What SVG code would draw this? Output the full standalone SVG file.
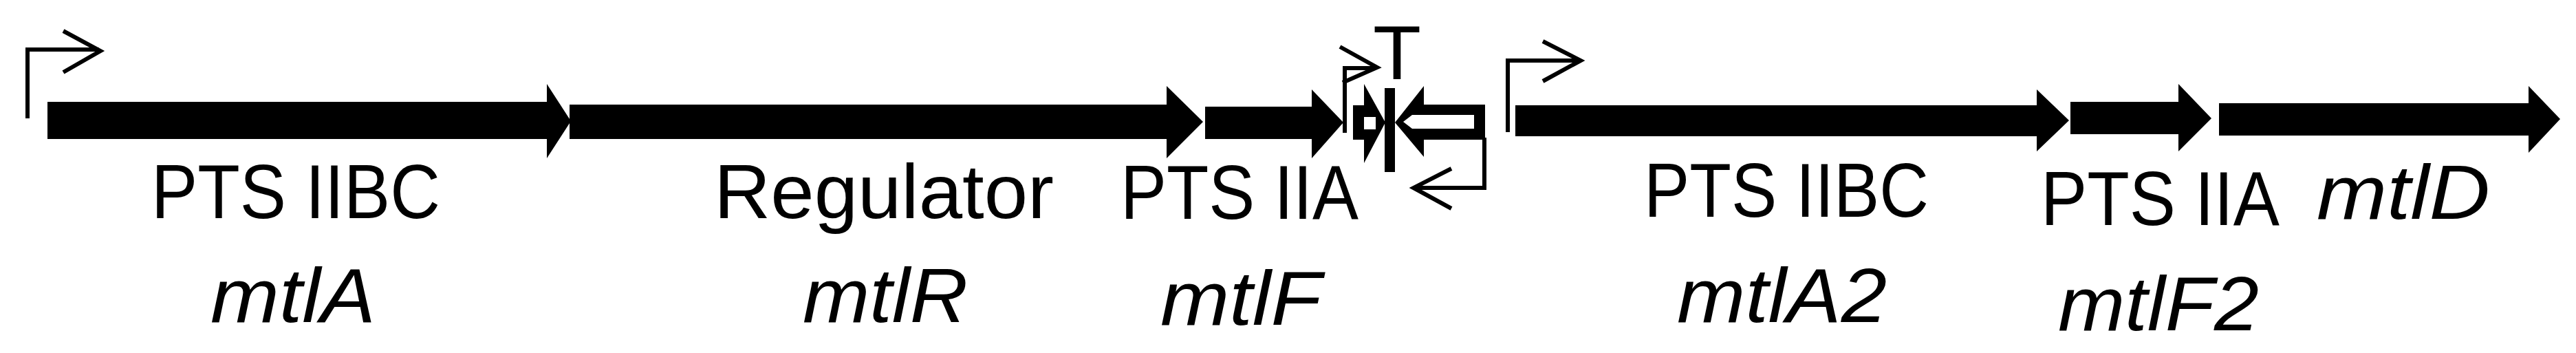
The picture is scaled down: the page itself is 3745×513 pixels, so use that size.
<svg xmlns="http://www.w3.org/2000/svg" width="3745" height="513" viewBox="0 0 3745 513">
<style>
.gene{fill:#000;}
.prom{fill:none;stroke:#000;stroke-width:6;stroke-linejoin:miter;}
.lbl{font-family:"Liberation Sans",Arial,sans-serif;font-size:112px;fill:#000;}
.it{font-style:italic;}
</style>
<rect width="3745" height="513" fill="#fff"/>
<g id="connectors">
  <g id="promoter1"><path class="prom" d="M40,172 V72 H144 M92,45 L146,74 L92,105"/></g>
  <g id="promoter2"><path class="prom" d="M1955,193 V99 H2000 M1948,68 L2002,98 L1952,120"/></g>
  <g id="promoter-rev"><path class="prom" d="M2158,200 V273 H2057 M2110,245 L2055,273 L2110,303"/></g>
  <g id="promoter3"><path class="prom" d="M2192,192 V88 H2296 M2243,60 L2298,88 L2243,118"/></g>
</g>
<g id="mtlA"><polygon class="gene" points="69,148 795,148 795,122 830,176 795,230 795,202 69,202"/></g>
<g id="mtlR"><polygon class="gene" points="828,152 1696,152 1696,125 1749,177 1696,230 1696,202 828,202"/></g>
<g id="mtlF"><polygon class="gene" points="1752,155 1907,155 1907,130 1953,178 1907,230 1907,202 1752,202"/></g>
<g id="small-fwd">
  <polygon class="gene" points="1967,153 1983,153 1983,122 2014,178 1983,237 1983,203 1967,203"/>
  <rect x="1983" y="170" width="17" height="18" fill="#fff"/>
</g>
<g id="terminator">
  <rect x="2013" y="128" width="15" height="122" fill="#000"/>
  <text class="lbl" x="2031" y="115" font-size="125" text-anchor="middle" textLength="70" lengthAdjust="spacingAndGlyphs">T</text>
</g>
<g id="small-rev">
  <polygon class="gene" points="2028,178 2070,125 2070,152 2159,152 2159,203 2070,203 2070,228"/>
  <polygon points="2040,177 2053,167 2143,167 2143,187 2053,187" fill="#fff"/>
</g>
<g id="mtlA2"><polygon class="gene" points="2203,153 2961,153 2961,130 3008,175 2961,220 2961,198 2203,198"/></g>
<g id="mtlF2"><polygon class="gene" points="3010,148 3167,148 3167,122 3215,172 3167,220 3167,195 3010,195"/></g>
<g id="mtlD"><polygon class="gene" points="3226,150 3676,150 3676,125 3722,173 3676,222 3676,197 3226,197"/></g>
<g id="labels">
  <text class="lbl" x="220" y="317" textLength="420" lengthAdjust="spacingAndGlyphs">PTS IIBC</text>
  <text class="lbl it" x="306" y="468" textLength="240" lengthAdjust="spacingAndGlyphs">mtlA</text>
  <text class="lbl" x="1038" y="317" textLength="494" lengthAdjust="spacingAndGlyphs">Regulator</text>
  <text class="lbl it" x="1167" y="468" textLength="240" lengthAdjust="spacingAndGlyphs">mtlR</text>
  <text class="lbl" x="1629" y="318" textLength="346" lengthAdjust="spacingAndGlyphs">PTS IIA</text>
  <text class="lbl it" x="1687" y="472" textLength="234" lengthAdjust="spacingAndGlyphs">mtlF</text>
  <text class="lbl" x="2390" y="315" textLength="414" lengthAdjust="spacingAndGlyphs">PTS IIBC</text>
  <text class="lbl it" x="2438" y="468" textLength="305" lengthAdjust="spacingAndGlyphs">mtlA2</text>
  <text class="lbl" x="2967" y="327" textLength="347" lengthAdjust="spacingAndGlyphs">PTS IIA</text>
  <text class="lbl it" x="3368" y="318" textLength="252" lengthAdjust="spacingAndGlyphs">mtlD</text>
  <text class="lbl it" x="2992" y="480" textLength="292" lengthAdjust="spacingAndGlyphs">mtlF2</text>
</g>
</svg>
